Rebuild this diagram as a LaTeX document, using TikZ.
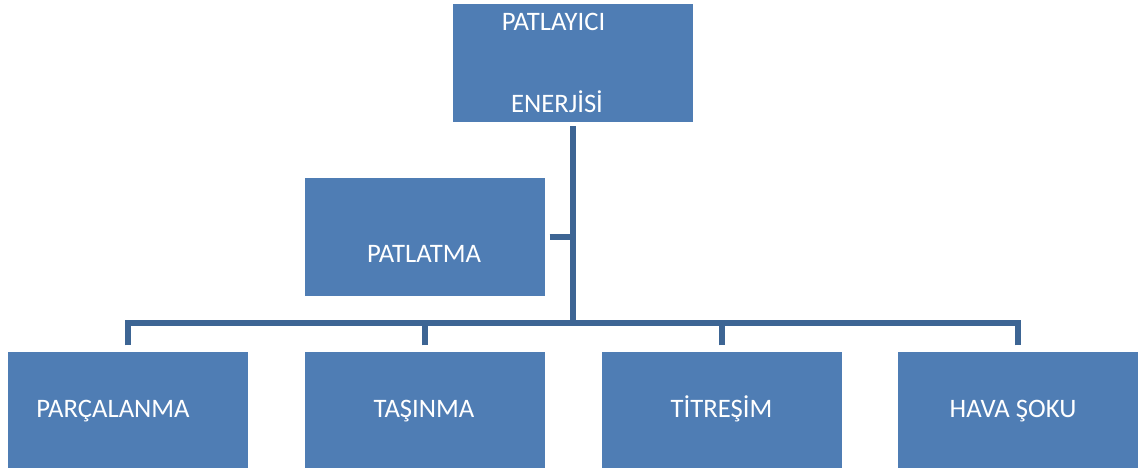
\documentclass[tikz,border=0pt]{standalone}
\usepackage{fontspec}
\setmainfont{Carlito}
\definecolor{boxblue}{HTML}{4F7DB4}
\definecolor{linkblue}{HTML}{3D6594}
\begin{document}
\begin{tikzpicture}[x=0.75pt,y=-0.75pt,
  box/.style={rectangle, fill=boxblue, draw=none, minimum width=180pt, minimum height=88.5pt, inner sep=0pt, outer sep=0pt},
  lbl/.style={text=white, font=\fontsize{20}{24}\selectfont, anchor=base, inner sep=0pt},
  conn/.style={draw=linkblue, line width=4.5pt, line join=miter}]
\useasboundingbox (0,0) rectangle (1147,468);
\node[box] (top) at (572.5,63) {};
\node[box] (pat) at (425,236.5) {};
\node[box, minimum height=87.75pt] (b1) at (128,410.5) {};
\node[box, minimum height=87.75pt] (b2) at (425,410.5) {};
\node[box, minimum height=87.75pt] (b3) at (721.5,410.5) {};
\node[box, minimum height=87.75pt] (b4) at (1018,410.5) {};
\node[lbl] (t1) at (553.5,30) {PATLAYICI};
\node[lbl] (t2) at (557,112) {ENERJİSİ};
\node[lbl] (tp) at (424,262) {PATLATMA};
\node[lbl] (l1) at (113,417) {PARÇALANMA};
\node[lbl] (l2) at (424,417) {TAŞINMA};
\node[lbl] (l3) at (721.5,417) {TİTREŞİM};
\node[lbl] (l4) at (1013,417) {HAVA ŞOKU};
\coordinate (j) at (572.5,322.5);
\draw[conn] ([yshift=-3pt]top.south) -- (j);
\draw[conn] ([xshift=3.5pt]pat.east) -- (pat.east -| j);
\draw[conn] ([yshift=5pt]b1.north) |- (j);
\draw[conn] ([yshift=5pt]b2.north) |- (j);
\draw[conn] ([yshift=5pt]b3.north) |- (j);
\draw[conn] ([yshift=5pt]b4.north) |- (j);
\end{tikzpicture}
\end{document}
